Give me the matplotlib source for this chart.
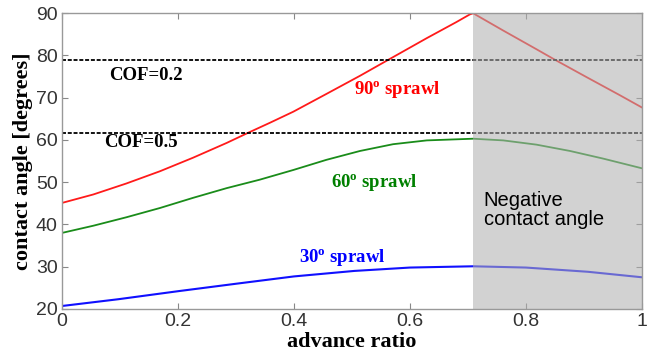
import numpy as np
import matplotlib
matplotlib.use("Agg")
import matplotlib.pyplot as plt

# ---- data ----
x_red = [0.0, 0.054, 0.111, 0.169, 0.226, 0.284, 0.321, 0.359, 0.399, 0.456, 0.514,
         0.563, 0.629, 0.68, 0.703, 0.709, 0.761, 0.818, 0.85, 0.903, 0.962, 1.0]
y_red = [45.1, 47.1, 49.7, 52.6, 55.8, 59.3, 61.7, 64.1, 66.7, 70.9, 75.2,
         79.0, 84.1, 87.9, 89.7, 90.0, 85.9, 81.5, 79.0, 75.0, 70.6, 67.7]

x_grn = [0.0, 0.054, 0.111, 0.169, 0.226, 0.284, 0.341, 0.399, 0.456, 0.514, 0.571,
         0.629, 0.709, 0.761, 0.818, 0.876, 0.933, 1.0]
y_grn = [38.0, 39.7, 41.7, 43.9, 46.3, 48.6, 50.6, 52.9, 55.3, 57.4, 59.0,
         59.9, 60.3, 59.9, 58.9, 57.4, 55.6, 53.3]

x_blu = [0.0, 0.097, 0.2, 0.302, 0.4, 0.504, 0.6, 0.709, 0.8, 0.907, 1.0]
y_blu = [20.7, 22.3, 24.2, 26.0, 27.7, 29.0, 29.8, 30.1, 29.8, 28.8, 27.5]

cof_levels = [79.0, 61.7]
cof_labels = ["COF=0.2", "COF=0.5"]
neg_start = 0.709

x_ticks = [0, 0.2, 0.4, 0.6, 0.8, 1]
x_ticklabels = ["0", "0.2", "0.4", "0.6", "0.8", "1"]
y_ticks = [20, 30, 40, 50, 60, 70, 80, 90]

plt.rcParams['mathtext.fontset'] = 'custom'
plt.rcParams['mathtext.rm'] = 'Liberation Serif:bold'
plt.rcParams['mathtext.it'] = 'Liberation Serif:bold'
plt.rcParams['mathtext.bf'] = 'Liberation Serif:bold'

fig = plt.figure(figsize=(6.7, 3.58), dpi=100)
ax = fig.add_axes([0.0925, 0.137, 0.8655, 0.826])

ax.plot(x_red, y_red, color='#ff1a1a', lw=1.3, zorder=2)
ax.plot(x_grn, y_grn, color='#1a8c1a', lw=1.3, zorder=2)
ax.plot(x_blu, y_blu, color='#1010ff', lw=1.5, zorder=2)
for lev in cof_levels:
    ax.axhline(lev, color='black', lw=1.3, ls=(0, (2.2, 1.0)), zorder=2)

ax.axvspan(neg_start, 1.0, facecolor='#b0b0b0', alpha=0.56, edgecolor='none', zorder=3)

serif = 'Liberation Serif'
fs_lab = 13.5
ax.text(0.144, 75.3, cof_labels[0], family=serif, weight='bold', fontsize=fs_lab,
        ha='center', va='center', color='black', zorder=4)
ax.text(0.137, 59.3, cof_labels[1], family=serif, weight='bold', fontsize=fs_lab,
        ha='center', va='center', color='black', zorder=4)
ax.text(0.578, 71.9, r"90$^{\mathrm{o}}$ sprawl", family=serif, weight='bold', fontsize=fs_lab,
        ha='center', va='center', color='#ff0000', zorder=4)
ax.text(0.538, 49.9, r"60$^{\mathrm{o}}$ sprawl", family=serif, weight='bold', fontsize=fs_lab,
        ha='center', va='center', color='#008000', zorder=4)
ax.text(0.484, 32.2, r"30$^{\mathrm{o}}$ sprawl", family=serif, weight='bold', fontsize=fs_lab,
        ha='center', va='center', color='#0000ff', zorder=4)
ax.text(0.727, 47.9, "Negative\ncontact angle", family='Liberation Sans', fontsize=14.5,
        ha='left', va='top', color='black', linespacing=1.0, zorder=4)

ax.set_xlim(0, 1)
ax.set_ylim(20, 90)
ax.set_xticks(x_ticks)
ax.set_xticklabels(x_ticklabels)
ax.set_yticks(y_ticks)
ax.tick_params(direction='in', top=True, right=True, length=4, width=0.8,
               color='#888888', labelsize=14, labelcolor='#333333', pad=3)
for lab in ax.get_xticklabels() + ax.get_yticklabels():
    lab.set_family('Liberation Sans')
for sp in ax.spines.values():
    sp.set_color('#999999')
    sp.set_linewidth(1.0)
    sp.set_zorder(5)

ax.set_xlabel("advance ratio", family=serif, weight='bold', fontsize=16, labelpad=1)
ax.set_ylabel("contact angle [degrees]", family=serif, weight='bold', fontsize=16, labelpad=2)

fig.savefig("out.png", dpi=100)
